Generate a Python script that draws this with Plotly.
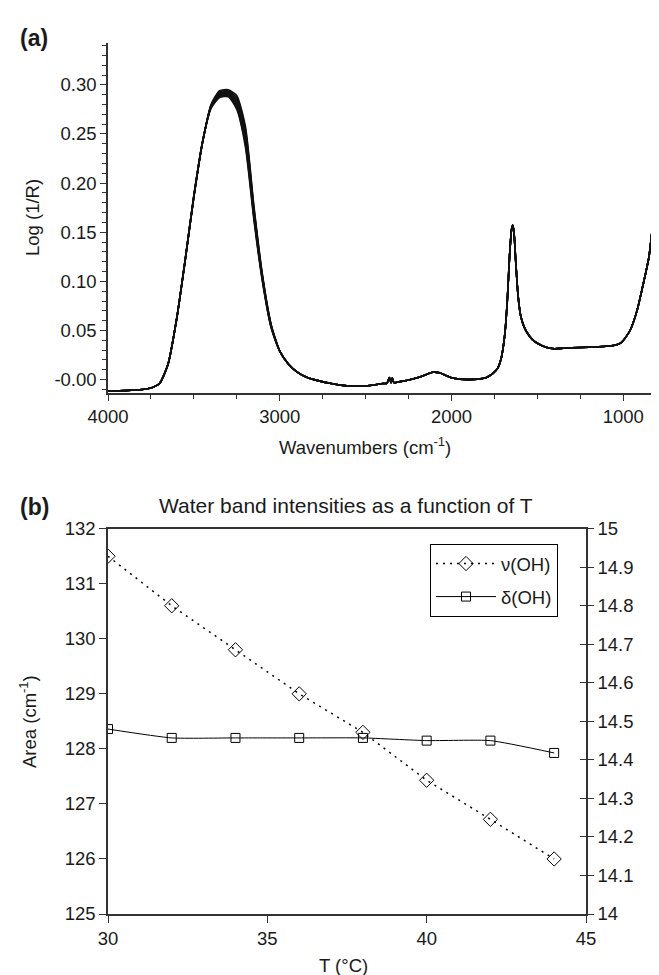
import plotly.graph_objects as go

# ---- panel (a): spectra, one curve per temperature ----
spec_temps = [30, 32, 34, 36, 38, 40, 42, 44]

wn_hi = [4000, 3900, 3800, 3750, 3700]
abs_hi = [-0.0118, -0.0112, -0.0100, -0.0085, -0.0040]

# OH stretching band, where the curves separate
wn_oh = [3650, 3600, 3550, 3500, 3450, 3400, 3350, 3300, 3250, 3200, 3150, 3100, 3050]
abs_oh = [
    [0.016, 0.062, 0.122, 0.186, 0.241, 0.280, 0.294, 0.295, 0.289, 0.258, 0.176, 0.106, 0.056],
    [0.016, 0.062, 0.122, 0.186, 0.241, 0.279, 0.293, 0.294, 0.287, 0.255, 0.174, 0.105, 0.056],
    [0.016, 0.062, 0.122, 0.186, 0.241, 0.279, 0.292, 0.293, 0.285, 0.252, 0.172, 0.104, 0.055],
    [0.016, 0.062, 0.122, 0.186, 0.241, 0.278, 0.291, 0.292, 0.283, 0.249, 0.170, 0.103, 0.055],
    [0.016, 0.062, 0.122, 0.187, 0.241, 0.278, 0.290, 0.291, 0.281, 0.246, 0.168, 0.102, 0.054],
    [0.016, 0.062, 0.123, 0.187, 0.241, 0.277, 0.289, 0.290, 0.279, 0.243, 0.166, 0.101, 0.054],
    [0.016, 0.062, 0.123, 0.187, 0.242, 0.277, 0.288, 0.289, 0.277, 0.240, 0.164, 0.100, 0.053],
    [0.016, 0.062, 0.123, 0.188, 0.242, 0.276, 0.287, 0.288, 0.275, 0.237, 0.162, 0.099, 0.053],
]

wn_lo = [3000, 2950, 2900, 2850, 2800, 2700, 2600, 2500, 2400, 2375, 2362, 2352, 2345, 2335,
         2300, 2200, 2150, 2110, 2070, 2030, 2000, 1950, 1900, 1850, 1800, 1760, 1730, 1710,
         1690, 1675, 1662, 1650, 1643, 1636, 1625, 1612, 1598, 1580, 1560, 1530, 1500, 1450,
         1400, 1350, 1300, 1200, 1100, 1050, 1030, 1010, 990, 960, 920, 880, 850, 800, 745]
abs_lo = [0.029, 0.016, 0.008, 0.003, 0.000, -0.004, -0.0065, -0.0065, -0.004, -0.0035, 0.002,
          -0.003, 0.0015, -0.003, -0.002, 0.002, 0.005, 0.0075, 0.007, 0.004, 0.002, 0.0005,
          0.0, 0.0005, 0.002, 0.006, 0.012, 0.022, 0.045, 0.080, 0.125, 0.153, 0.157, 0.150,
          0.118, 0.085, 0.066, 0.055, 0.048, 0.041, 0.037, 0.033, 0.0315, 0.032, 0.0325, 0.033,
          0.034, 0.035, 0.036, 0.038, 0.042, 0.050, 0.070, 0.100, 0.125, 0.205, 0.290]

a_yticks = [0.0, 0.05, 0.10, 0.15, 0.20, 0.25, 0.30]
a_yticktext = ["-0.00", "0.05", "0.10", "0.15", "0.20", "0.25", "0.30"]
a_xticks = [4000, 3000, 2000, 1000]

# ---- panel (b): band areas vs temperature ----
temps = [30, 32, 34, 36, 38, 40, 42, 44]
nu_oh = [131.5, 130.6, 129.8, 129.0, 128.3, 127.43, 126.72, 126.0]
delta_oh = [14.48, 14.457, 14.457, 14.457, 14.457, 14.45, 14.45, 14.418]

right_ticks = [14.0, 14.1, 14.2, 14.3, 14.4, 14.5, 14.6, 14.7, 14.8, 14.9, 15.0]
right_ticktext = ["14", "14.1", "14.2", "14.3", "14.4", "14.5", "14.6", "14.7", "14.8", "14.9", "15"]

W, H = 659, 975
FONT = "Liberation Sans, Arial, sans-serif"
AX = "#333333"
FS = 18.5

fig = go.Figure()

for i, t in enumerate(spec_temps):
    fig.add_trace(go.Scatter(
        x=wn_hi + wn_oh + wn_lo, y=abs_hi + abs_oh[i] + abs_lo,
        mode="lines", line=dict(color="#111111", width=1.6, shape="spline", smoothing=0.6),
        xaxis="x", yaxis="y", showlegend=False, name=f"{t} °C"))

fig.add_trace(go.Scatter(
    x=temps, y=nu_oh, name="ν(OH)", mode="lines+markers",
    line=dict(color="black", width=1.5, dash="2px,5px"),
    marker=dict(symbol="diamond-open", size=11, color="black", line=dict(width=1)),
    xaxis="x2", yaxis="y2", legendgroup="a"))
fig.add_trace(go.Scatter(
    x=temps, y=delta_oh, name="δ(OH)", mode="lines+markers",
    line=dict(color="black", width=1, shape="spline", smoothing=0.5),
    marker=dict(symbol="square-open", size=9, color="black", line=dict(width=1)),
    xaxis="x2", yaxis="y3", legendgroup="b"))
# carrier trace so the inner tick axis is drawn
fig.add_trace(go.Scatter(x=temps, y=delta_oh, mode="lines", opacity=0, showlegend=False,
                         hoverinfo="skip", xaxis="x2", yaxis="y4"))


def px_x(v):
    return v / W


def px_y(v):
    return 1 - v / H


axis_common = dict(showline=True, linecolor=AX, linewidth=1.5, showgrid=False, zeroline=False,
                   ticks="outside", tickcolor=AX, tickwidth=1.2, automargin=False,
                   tickfont=dict(size=FS, color="#1a1a1a"))

fig.update_layout(
    width=W, height=H, margin=dict(l=0, r=0, t=0, b=0),
    paper_bgcolor="white", plot_bgcolor="white",
    font=dict(family=FONT, size=FS, color="#1a1a1a"),
    xaxis=dict(axis_common, domain=[px_x(100), 1.0], anchor="y", range=[4000, 745],
               tickvals=a_xticks, ticklen=6,
               minor=dict(tick0=4000, dtick=250, ticks="outside", ticklen=4, tickcolor=AX)),
    yaxis=dict(axis_common, domain=[px_y(385), px_y(35)], anchor="x", range=[-0.0136, 0.3426],
               tickvals=a_yticks, ticktext=a_yticktext, ticklen=6,
               minor=dict(tick0=0, dtick=0.01, ticks="outside", ticklen=4, tickcolor=AX)),
    xaxis2=dict(axis_common, domain=[px_x(100), px_x(578)], anchor="y2", range=[30, 45],
                tickvals=[30, 35, 40, 45], ticklen=7, mirror=True),
    yaxis2=dict(axis_common, domain=[px_y(906), px_y(520.7)], anchor="x2", range=[125, 132],
                dtick=1, ticklen=7),
    yaxis3=dict(axis_common, overlaying="y2", side="right", anchor="x2", range=[14, 15],
                tickvals=right_ticks, ticktext=right_ticktext, ticklen=6),
    yaxis4=dict(axis_common, overlaying="y2", side="right", anchor="x2", range=[14, 15],
                tickvals=right_ticks, ticks="inside", ticklen=6, showticklabels=False),
    legend=dict(x=px_x(422), y=px_y(536), xanchor="left", yanchor="top",
                bgcolor="white", bordercolor="black", borderwidth=1,
                font=dict(size=FS), itemwidth=60, traceorder="grouped", tracegroupgap=6),
)

annotations = [
    dict(text="<b>(a)</b>", x=px_x(10), y=px_y(30), xanchor="left", font=dict(size=23)),
    dict(text="<b>(b)</b>", x=px_x(10), y=px_y(499), xanchor="left", font=dict(size=23)),
    dict(text="Log (1/R)", x=px_x(24), y=px_y(210), textangle=-90),
    dict(text="Wavenumbers (cm<sup>-1</sup>)", x=px_x(357), y=px_y(438)),
    dict(text="Water band intensities as a function of T", x=px_x(338), y=px_y(497),
         font=dict(size=21)),
    dict(text="Area (cm<sup>-1</sup>)", x=px_x(20), y=px_y(714), textangle=-90),
    dict(text="T (°C)", x=px_x(335), y=px_y(957)),
]
for a in annotations:
    a.update(xref="paper", yref="paper", showarrow=False)
    a.setdefault("xanchor", "center")
    a.setdefault("yanchor", "middle")
fig.update_layout(annotations=annotations)

fig.write_html("out.html")
